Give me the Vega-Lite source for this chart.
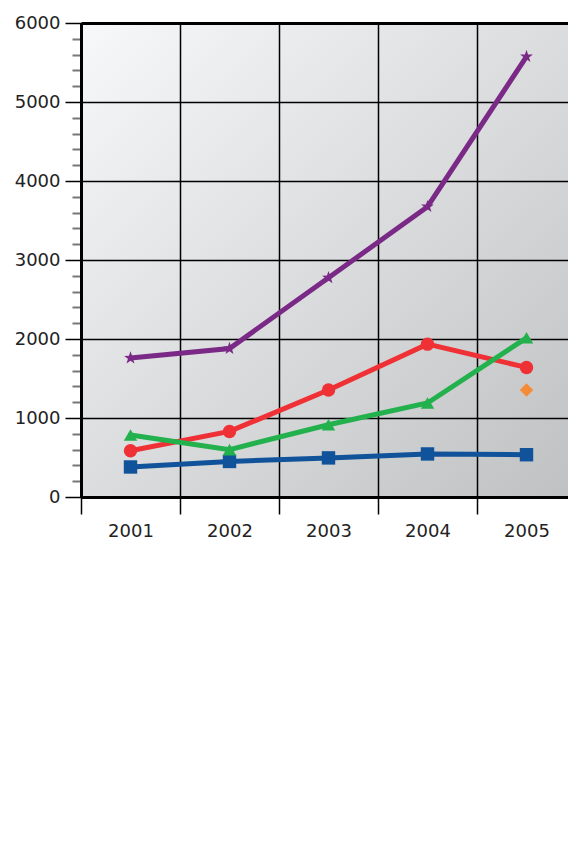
{
  "$schema": "https://vega.github.io/schema/vega-lite/v6.json",
  "autosize": "none",
  "padding": {"left": 81, "top": 23, "right": 0, "bottom": 364},
  "width": 487,
  "height": 474,
  "background": "white",
  "view": {
    "stroke": null,
    "fill": {"expr": "{gradient: 'linear', x1: 0, y1: 0, x2: 1, y2: 1, stops: [{offset: 0, color: '#f7f8f9'}, {offset: 1, color: '#c0c1c3'}]}"}
  },
  "data": {"values": [
    {"year": "2001", "series": "Plat du jour", "value": 380},
    {"year": "2002", "series": "Plat du jour", "value": 450},
    {"year": "2003", "series": "Plat du jour", "value": 495},
    {"year": "2004", "series": "Plat du jour", "value": 545},
    {"year": "2005", "series": "Plat du jour", "value": 535},
    {"year": "2001", "series": "Hot Dogs", "value": 585},
    {"year": "2002", "series": "Hot Dogs", "value": 830},
    {"year": "2003", "series": "Hot Dogs", "value": 1355},
    {"year": "2004", "series": "Hot Dogs", "value": 1935},
    {"year": "2005", "series": "Hot Dogs", "value": 1640},
    {"year": "2001", "series": "Grillades / Raclettes", "value": 785},
    {"year": "2002", "series": "Grillades / Raclettes", "value": 600},
    {"year": "2003", "series": "Grillades / Raclettes", "value": 915},
    {"year": "2004", "series": "Grillades / Raclettes", "value": 1190},
    {"year": "2005", "series": "Grillades / Raclettes", "value": 2015},
    {"year": "2005", "series": "Frites", "value": 1355},
    {"year": "2001", "series": "Total des repas", "value": 1760},
    {"year": "2002", "series": "Total des repas", "value": 1880},
    {"year": "2003", "series": "Total des repas", "value": 2775},
    {"year": "2004", "series": "Total des repas", "value": 3675},
    {"year": "2005", "series": "Total des repas", "value": 5575}
  ]},
  "encoding": {
    "x": {"field": "year", "type": "nominal", "sort": null,
      "scale": {"range": [0, 495], "paddingInner": 0, "paddingOuter": 0},
      "axis": {"title": null, "tickBand": "extent", "labelAngle": 0,
        "grid": true, "gridColor": "#000", "gridWidth": 1.5,
        "ticks": true, "tickColor": "#000", "tickWidth": 1.5, "tickSize": 17,
        "domain": true, "domainColor": "#000", "domainWidth": 3,
        "labelFont": "DejaVu Sans", "labelFontSize": 18, "labelColor": "#222", "labelPadding": 8}},
    "y": {"field": "value", "type": "quantitative",
      "scale": {"domain": [0, 6000], "nice": false},
      "axis": {"title": null, "format": "d",
        "values": [0,200,400,600,800,1000,1200,1400,1600,1800,2000,2200,2400,2600,2800,3000,3200,3400,3600,3800,4000,4200,4400,4600,4800,5000,5200,5400,5600,5800,6000],
        "labelExpr": "datum.value % 1000 === 0 ? datum.label : ''",
        "grid": true, "gridColor": "#000",
        "gridOpacity": {"condition": {"test": "datum.value % 1000 !== 0", "value": 0}, "value": 1},
        "gridWidth": {"condition": {"test": "datum.value === 6000", "value": 3}, "value": 1.5},
        "tickSize": {"condition": {"test": "datum.value % 1000 !== 0", "value": 9}, "value": 16},
        "tickColor": {"condition": {"test": "datum.value % 1000 !== 0", "value": "#777"}, "value": "#000"},
        "tickWidth": {"condition": {"test": "datum.value % 1000 !== 0", "value": 2}, "value": 1.5},
        "domain": true, "domainColor": "#000", "domainWidth": 3,
        "labelFont": "DejaVu Sans", "labelFontSize": 18, "labelColor": "#222", "labelPadding": 5}}
  },
  "layer": [
    {"mark": {"type": "line", "strokeWidth": 5},
     "encoding": {
       "stroke": {"field": "series", "type": "nominal",
         "scale": {"domain": ["Plat du jour", "Hot Dogs", "Grillades / Raclettes", "Frites", "Total des repas"],
           "range": ["#10539a", "#ef3136", "#22b14c", "#f58b36", "#7a2a86"]},
         "legend": null}}},
    {"mark": {"type": "point", "filled": true, "opacity": 1, "size": 180},
     "encoding": {
       "color": {"field": "series", "type": "nominal",
         "scale": {"domain": ["Plat du jour", "Hot Dogs", "Grillades / Raclettes", "Frites", "Total des repas"],
           "range": ["#10539a", "#ef3136", "#22b14c", "#f58b36", "#7a2a86"]},
         "legend": {"orient": "none", "legendX": 45.5, "legendY": 584.5, "direction": "vertical", "title": null,
           "symbolSize": 225, "symbolStrokeWidth": 0, "symbolOpacity": 1,
           "labelFont": "DejaVu Sans", "labelFontSize": 18, "labelColor": "#222", "labelOffset": 46,
           "rowPadding": 22, "padding": 0, "labelLimit": 400}},
       "shape": {"field": "series", "type": "nominal",
         "scale": {"domain": ["Plat du jour", "Hot Dogs", "Grillades / Raclettes", "Frites", "Total des repas"],
           "range": ["square", "circle", "triangle-up", "diamond", "M0,-1L0.235,-0.324L0.951,-0.309L0.38,0.124L0.588,0.809L0,0.4L-0.588,0.809L-0.38,0.124L-0.951,-0.309L-0.235,-0.324Z"]},
         "legend": {"orient": "none", "legendX": 45.5, "legendY": 584.5, "direction": "vertical", "title": null,
           "symbolSize": 225, "symbolStrokeWidth": 0, "symbolOpacity": 1,
           "labelFont": "DejaVu Sans", "labelFontSize": 18, "labelColor": "#222", "labelOffset": 46,
           "rowPadding": 22, "padding": 0, "labelLimit": 400}}}}
  ]
}
